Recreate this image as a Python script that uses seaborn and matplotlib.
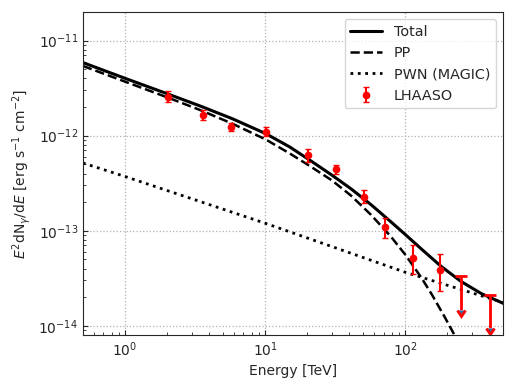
import matplotlib
matplotlib.use("Agg")
import matplotlib.pyplot as plt
import matplotlib.lines as mlines
import matplotlib.ticker as mtick
import numpy as np
import seaborn as sns

# model curves (E in TeV, E^2 dN/dE in erg s^-1 cm^-2)
total_e = [0.5, 1.0, 2.0, 3.5, 5.88, 10.1, 15.0, 21.2, 30.0, 40.9, 57.0, 79.1,
           100.0, 130.0, 180.0, 250.0, 350.0, 507.0]
total_f = [5.87e-12, 4.01e-12, 2.76e-12, 2.03e-12, 1.50e-12, 1.05e-12, 7.60e-13,
           5.43e-13, 3.84e-13, 2.77e-13, 1.88e-13, 1.24e-13, 9.14e-14, 6.45e-14,
           4.23e-14, 2.93e-14, 2.18e-14, 1.71e-14]

pp_e = [0.5, 1.0, 2.0, 3.5, 5.88, 10.1, 15.0, 21.2, 30.0, 40.9, 57.0, 79.1,
        100.0, 130.0, 155.0, 190.0, 225.0]
pp_f = [5.41e-12, 3.70e-12, 2.53e-12, 1.84e-12, 1.33e-12, 9.12e-13, 6.49e-13,
        4.72e-13, 3.38e-13, 2.35e-13, 1.47e-13, 8.66e-14, 5.61e-14, 3.23e-14,
        2.13e-14, 1.26e-14, 7.97e-15]

pwn_e = [0.5, 1.0, 10.0, 100.0, 500.0]
pwn_f = [5.16e-13, 3.72e-13, 1.20e-13, 3.66e-14, 1.76e-14]

# LHAASO flux points
lhaaso_e = [2.02, 3.59, 5.66, 10.1, 20.1, 32.0, 50.5, 71.6, 113.0, 178.0]
lhaaso_f = [2.55e-12, 1.64e-12, 1.23e-12, 1.09e-12, 6.22e-13, 4.41e-13, 2.27e-13,
            1.10e-13, 5.18e-14, 3.91e-14]
lhaaso_lo = [2.26e-12, 1.45e-12, 1.11e-12, 9.86e-13, 5.28e-13, 3.93e-13, 1.96e-13,
             8.4e-14, 3.55e-14, 2.33e-14]
lhaaso_hi = [2.93e-12, 1.85e-12, 1.36e-12, 1.22e-12, 7.19e-13, 4.89e-13, 2.67e-13,
             1.36e-13, 7.05e-14, 5.66e-14]

# upper limits: cap value and arrow tip
ul_e = [250.0, 401.0]
ul_f = [3.33e-14, 2.13e-14]
ul_tip = [1.48e-14, 9.6e-15]

sns.set_style("ticks", {
    "xtick.direction": "in",
    "ytick.direction": "in",
})
plt.rcParams["font.family"] = ["DejaVu Sans"]

fig = plt.figure(figsize=(5.15, 3.86), dpi=100)
ax = fig.add_axes([0.161, 0.132, 0.816, 0.837])

ax.set_xscale("log")
ax.set_yscale("log")

sns.lineplot(x=total_e, y=total_f, ax=ax, color="black", lw=2.2, label="Total")
sns.lineplot(x=pp_e, y=pp_f, ax=ax, color="black", lw=1.8, linestyle="--", label="PP")
sns.lineplot(x=pwn_e, y=pwn_f, ax=ax, color="black", lw=2.0, linestyle=":",
             label="PWN (MAGIC)")

f = np.array(lhaaso_f)
yerr = [f - np.array(lhaaso_lo), np.array(lhaaso_hi) - f]
ax.errorbar(lhaaso_e, lhaaso_f, yerr=yerr, fmt="o", color="red", ms=4.5,
            elinewidth=1.5, capsize=2, capthick=1, label="LHAASO")

u = np.array(ul_f)
_, ul_caps, _ = ax.errorbar(ul_e, ul_f, yerr=u - np.array(ul_tip), uplims=True,
                            fmt="none", ecolor="red", elinewidth=2, capsize=4,
                            capthick=2)
# smaller arrow heads than the cap width
for cap in ul_caps:
    if cap.get_marker() == mlines.CARETDOWNBASE:
        cap.set_markersize(5.5)

ax.set_xlim(0.5, 500)
ax.set_ylim(8e-15, 2e-11)
ax.xaxis.set_minor_formatter(mtick.NullFormatter())
ax.yaxis.set_minor_formatter(mtick.NullFormatter())
ax.grid(True, which="major", linestyle=":", color="#b0b0b0", lw=0.9)

ax.set_xlabel("Energy [TeV]")
ax.set_ylabel(r"$E^2$dN$_\gamma$/d$E$ [erg s$^{-1}$ cm$^{-2}$]")

ax.legend(loc="upper right", fontsize=10.4, handlelength=2.2, frameon=True)

fig.savefig("out.png", dpi=100)
